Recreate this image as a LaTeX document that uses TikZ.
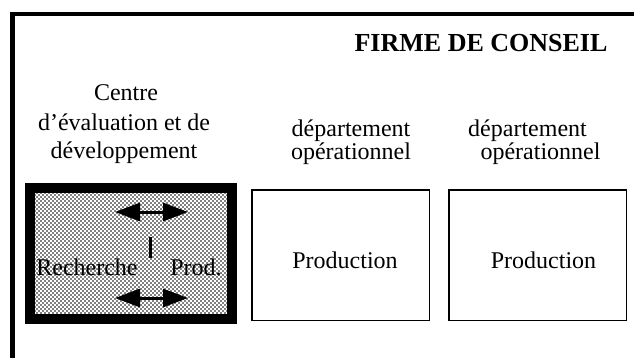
\documentclass[tikz,border=0pt]{standalone}
\usepackage{fontspec}
\setmainfont{Liberation Serif}
\usetikzlibrary{patterns,arrows.meta}
\pgfdeclarepatternformonly{hexdots}{\pgfqpoint{-1bp}{-1bp}}{\pgfqpoint{5bp}{5bp}}{\pgfqpoint{4bp}{4bp}}{%
  \pgfpathcircle{\pgfqpoint{1bp}{1bp}}{0.95bp}%
  \pgfpathcircle{\pgfqpoint{3bp}{3bp}}{0.95bp}%
  \pgfusepath{fill}}
\tikzset{
  txt/.style={inner sep=0pt, anchor=base, font=\fontsize{24bp}{28bp}\selectfont},
  ttl/.style={inner sep=0pt, anchor=base, font=\fontsize{26bp}{30bp}\selectfont\bfseries},
  plainbox/.style={draw, line width=1.5bp, minimum width=177.5bp, minimum height=130.5bp, inner sep=0pt},
  darkbox/.style={draw, line width=10bp, minimum width=202bp, minimum height=131bp, inner sep=0pt, pattern=hexdots, pattern color=black},
  dblarrow/.style={line width=3bp, {Triangle[length=25bp,width=18bp]}-{Triangle[length=25bp,width=18bp]}},
  frameline/.style={line width=4.5bp, line join=miter}
}
\begin{document}
\begin{tikzpicture}[x=1bp,y=-1bp]
\useasboundingbox (0,0) rectangle (634,358);
\fill[white] (0,0) rectangle (634,358);
% outer frame (top and left edges)
\coordinate (ftr) at (634,14);
\coordinate (ftl) at (12.5,14);
\coordinate (fbl) at (12.5,358);
\draw[frameline] (ftr) -- (ftl) -- (fbl);
% title
\node[ttl] (title) at (481,51) {FIRME DE CONSEIL};
% column headings
\node[txt] (h1a) at (126,100) {Centre};
\node[txt] (h1b) at (124,130) {d'évaluation et de};
\node[txt] (h1c) at (124,158) {développement};
\node[txt] (h2a) at (351,136) {département};
\node[txt] (h2b) at (351,159) {opérationnel};
\node[txt] (h3a) at (527.5,136) {département};
\node[txt] (h3b) at (540.5,159) {opérationnel};
% boxes
\node[darkbox] (b1) at (131,253.5) {};
\node[plainbox] (b2) at (340.5,255) {};
\node[plainbox] (b3) at (537.5,255) {};
\node[txt] (p2) at (345,268) {Production};
\node[txt] (p3) at (543.5,268) {Production};
% inside the dark box
\node[txt] (rech) at (87,275) {Recherche};
\node[txt] (prod) at (196,275) {Prod.};
\coordinate (a1l) at (115,212);
\coordinate (a1r) at (188,212);
\coordinate (a2l) at (115,298);
\coordinate (a2r) at (188,298);
\coordinate (vt) at (150,237);
\coordinate (vb) at (150,258);
\draw[dblarrow] (a1l) -- (a1r);
\draw[dblarrow] (a2l) -- (a2r);
\draw[line width=3bp] (vt) -- (vb);
\end{tikzpicture}
\end{document}
